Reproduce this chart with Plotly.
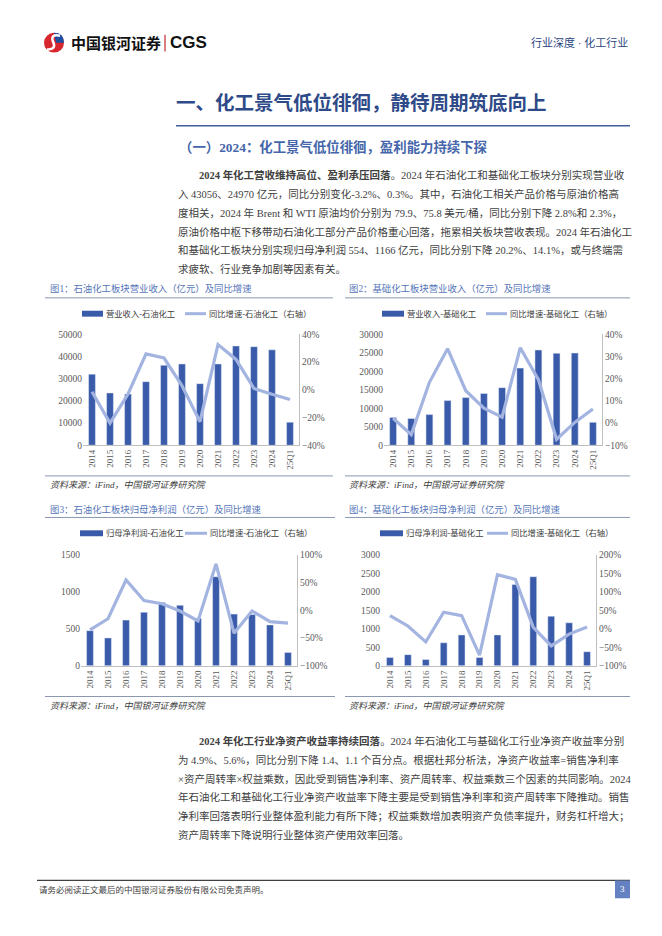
import plotly.graph_objects as go

# ---------------- data ----------------
categories = ["2014", "2015", "2016", "2017", "2018", "2019", "2020", "2021", "2022", "2023", "2024", "25Q1"]

petro_revenue = [32100, 23600, 23100, 28700, 36100, 36700, 27800, 36700, 44800, 44480, 43056, 10400]
petro_revenue_yoy = [-1.4, -24.0, -3.0, 26.0, 23.0, 3.0, -23.0, 32.7, 22.0, 1.0, -3.2, -7.0]

basic_revenue = [7500, 7250, 8300, 12100, 12900, 14000, 15600, 20900, 25800, 24900, 24970, 6200]
basic_revenue_yoy = [2.2, -5.2, 18.4, 33.6, 14.6, 6.7, 2.7, 34.0, 19.6, -7.3, 0.3, 6.4]

petro_profit = [476, 378, 619, 725, 859, 819, 645, 1206, 700, 695, 554, 182]
petro_profit_yoy = [-35, -15, 55, 18, 12, -1, -19, 84, -41, -1, -20.2, -23]

basic_profit = [223, 303, 169, 623, 837, 223, 837, 2199, 2413, 1344, 1166, 383]
basic_profit_yoy = [36, 8, -35, 45, 36, -71, 147, 134, 4, -46, -14.1, 5]

bar_names = ["营业收入-石油化工", "营业收入-基础化工", "归母净利润-石油化工", "归母净利润-基础化工"]
line_names = ["同比增速-石油化工（右轴）", "同比增速-基础化工（右轴）", "同比增速-石油化工（右轴）", "同比增速-基础化工（右轴）"]
captions = ["图1：石油化工板块营业收入（亿元）及同比增速", "图2：基础化工板块营业收入（亿元）及同比增速",
            "图3：石油化工板块归母净利润（亿元）及同比增速", "图4：基础化工板块归母净利润（亿元）及同比增速"]
left_ranges = [[0, 50000], [0, 30000], [0, 1500], [0, 3000]]
left_dticks = [10000, 5000, 500, 500]
right_ranges = [[-40, 40], [-10, 40], [-100, 100], [-100, 200]]
right_dticks = [20, 10, 50, 50]

para1 = [
    "<b>2024 年化工营收维持高位、盈利承压回落</b>。2024 年石油化工和基础化工板块分别实现营业收",
    "入 43056、24970 亿元，同比分别变化-3.2%、0.3%。其中，石油化工相关产品价格与原油价格高",
    "度相关，2024 年 Brent 和 WTI 原油均价分别为 79.9、75.8 美元/桶，同比分别下降 2.8%和 2.3%，",
    "原油价格中枢下移带动石油化工部分产品价格重心回落，拖累相关板块营收表现。2024 年石油化工",
    "和基础化工板块分别实现归母净利润 554、1166 亿元，同比分别下降 20.2%、14.1%，或与终端需",
    "求疲软、行业竞争加剧等因素有关。",
]
para2 = [
    "<b>2024 年化工行业净资产收益率持续回落</b>。2024 年石油化工与基础化工行业净资产收益率分别",
    "为 4.9%、5.6%，同比分别下降 1.4、1.1 个百分点。根据杜邦分析法，净资产收益率=销售净利率",
    "×资产周转率×权益乘数，因此受到销售净利率、资产周转率、权益乘数三个因素的共同影响。2024",
    "年石油化工和基础化工行业净资产收益率下降主要是受到销售净利率和资产周转率下降推动。销售",
    "净利率回落表明行业整体盈利能力有所下降；权益乘数增加表明资产负债率提升，财务杠杆增大；",
    "资产周转率下降说明行业整体资产使用效率回落。",
]

# ---------------- layout helpers ----------------
OFF = 8                      # page body margin of the html page
W, H = 662 - 2 * OFF, 936 - 2 * OFF
def px(x): return (x - OFF) / W
def py(y): return 1 - (y - OFF) / H

BAR_C = "#3A5BAA"
LINE_C = "#A3B4E0"
TXT = "#404040"
SERIF = "Liberation Serif, Noto Sans CJK SC"
SANS = "Noto Sans CJK SC"

bar_series = [petro_revenue, basic_revenue, petro_profit, basic_profit]
line_series = [petro_revenue_yoy, basic_revenue_yoy, petro_profit_yoy, basic_profit_yoy]

# plot areas in page pixels: (left, right, top, bottom)
areas = [(83, 299, 333, 445), (384, 602, 333, 445), (81, 297, 556, 668), (381, 596, 556, 668)]

fig = go.Figure()
layout = dict(width=W, height=H, margin=dict(l=0, r=0, t=0, b=0), plot_bgcolor="white",
              paper_bgcolor="white", showlegend=False, bargap=0.62)

shapes, annotations = [], []

def text(x, y, s, size, color=TXT, family=SANS, xanchor="left", yanchor="middle"):
    annotations.append(dict(x=px(x), y=py(y), xref="paper", yref="paper", text=s, showarrow=False,
                            xanchor=xanchor, yanchor=yanchor, font=dict(size=size, color=color, family=family)))

def hline(x0, x1, y, color, width):
    shapes.append(dict(type="line", xref="paper", yref="paper", x0=px(x0), x1=px(x1), y0=py(y), y1=py(y),
                       line=dict(color=color, width=width)))

for i in range(4):
    k = i + 1
    xs = "" if k == 1 else str(k)
    l, r, t, b = areas[i]
    xa, ya, ya2 = "x" + xs, "y" + xs, "y" + str(k + 4)
    fig.add_trace(go.Bar(x=categories, y=bar_series[i], marker_color=BAR_C, xaxis=xa, yaxis=ya, name=bar_names[i]))
    fig.add_trace(go.Scatter(x=categories, y=line_series[i], mode="lines", line=dict(color=LINE_C, width=3.2),
                             xaxis=xa, yaxis=ya2, name=line_names[i]))
    layout["xaxis" + xs] = dict(domain=[px(l), px(r)], anchor=ya, showline=True, linecolor="#BFBFBF", linewidth=1,
                                tickangle=-90, tickfont=dict(size=9, color="#595959", family=SERIF),
                                showgrid=False, ticks="", fixedrange=True)
    layout["yaxis" + xs] = dict(domain=[py(b), py(t)], anchor=xa, range=left_ranges[i], dtick=left_dticks[i],
                                tickformat="d", showgrid=False, zeroline=False, showline=False, ticks="",
                                tickfont=dict(size=9.5, color="#595959", family=SERIF))
    layout["yaxis" + str(k + 4)] = dict(overlaying=ya, anchor=xa, side="right", range=right_ranges[i],
                                        dtick=right_dticks[i], ticksuffix="%", showgrid=False, zeroline=False,
                                        showline=True, linecolor="#BFBFBF", ticks="",
                                        tickfont=dict(size=9.5, color="#595959", family=SERIF))

# chart captions, rules, legends, sources
cap_x = [48, 347, 48, 347]
cap_y = [287, 287, 510, 510]
rule_x = [(45, 333), (345, 630), (45, 335), (345, 630)]
cap_rule_y = [296, 296, 518, 518]
src_rule_y = [476, 476, 699, 699]
src_y = [485, 485, 709, 709]
leg_y = [312, 312, 534, 534]
leg_rect = [(82, 103), (382, 404), (80, 103), (380, 403)]
leg_line = [(185, 206), (486, 507), (185, 207), (487, 508)]

for i in range(4):
    text(cap_x[i], cap_y[i], captions[i], 9.4, color="#5675B8", family=SERIF)
    hline(rule_x[i][0], rule_x[i][1], cap_rule_y[i], "#8A97AE", 1)
    hline(rule_x[i][0], rule_x[i][1], src_rule_y[i], "#8A97AE", 1)
    text(cap_x[i], src_y[i], "<i>资料来源：iFind，中国银河证券研究院</i>", 9, family=SERIF)
    x0, x1 = leg_rect[i]
    shapes.append(dict(type="rect", xref="paper", yref="paper", x0=px(x0), x1=px(x1),
                       y0=py(leg_y[i] + 3), y1=py(leg_y[i] - 3), fillcolor=BAR_C, line=dict(width=0)))
    text(x1 + 1, leg_y[i], bar_names[i], 8.3, family=SERIF)
    lx0, lx1 = leg_line[i]
    hline(lx0, lx1, leg_y[i], LINE_C, 3)
    text(lx1 + 1, leg_y[i], line_names[i], 8.3, family=SERIF)

# header: logo
shapes.append(dict(type="circle", xref="paper", yref="paper", x0=px(44), x1=px(64), y0=py(48), y1=py(28),
                   fillcolor="#D7262E", line=dict(width=0)))
shapes.append(dict(type="path", xref="paper", yref="paper",
                   path=f"M {px(54)},{py(28)} Q {px(64)},{py(28)} {px(64)},{py(38)} L {px(56)},{py(38)} Z",
                   fillcolor="#1F4E9E", line=dict(width=0)))
shapes.append(dict(type="path", xref="paper", yref="paper",
                   path=f"M {px(60)},{py(31)} Q {px(50)},{py(29)} {px(53)},{py(37)} Q {px(57)},{py(45)} {px(47)},{py(45)}",
                   line=dict(color="white", width=2.5)))
text(69, 38, "<b>中国银河证券</b>", 15, color="#111111", family=SANS)
shapes.append(dict(type="line", xref="paper", yref="paper", x0=px(165), x1=px(165), y0=py(30), y1=py(47),
                   line=dict(color="#C0282E", width=1.2)))
text(168, 38, "<b>CGS</b>", 17, color="#111111", family="Liberation Sans, Arial")
text(630, 38, "行业深度 · 化工行业", 11, color="#2B467F", family=SERIF, xanchor="right")

# section title
text(174, 99, "<b>一、化工景气低位徘徊，静待周期筑底向上</b>", 19.5, color="#2E4A88", family=SERIF)
hline(176, 630, 122, "#3F5E9E", 1.5)
text(177, 143, "<b>（一）2024：化工景气低位徘徊，盈利能力持续下探</b>", 13.4, color="#4566AA", family=SERIF)

# paragraphs
p1_y = [172, 191, 210, 229, 248, 267]
for j, line in enumerate(para1):
    text(197 if j == 0 else 176, p1_y[j], line, 10.5, family=SERIF)
p2_y = [744, 763, 782, 801, 820, 839]
for j, line in enumerate(para2):
    text(197 if j == 0 else 176, p2_y[j], line, 10.5, family=SERIF)

# footer
hline(37, 630, 885, "#404040", 1.2)
text(37, 895, "请务必阅读正文最后的中国银河证券股份有限公司免责声明。", 8.5, family=SERIF)
shapes.append(dict(type="rect", xref="paper", yref="paper", x0=px(615), x1=px(630), y0=py(903), y1=py(885),
                   fillcolor="#6482C2", line=dict(width=0)))
text(622.5, 894, "3", 9, color="white", family=SERIF, xanchor="center")

layout["shapes"] = shapes
layout["annotations"] = annotations
fig.update_layout(**layout)
fig.write_html("out.html")
